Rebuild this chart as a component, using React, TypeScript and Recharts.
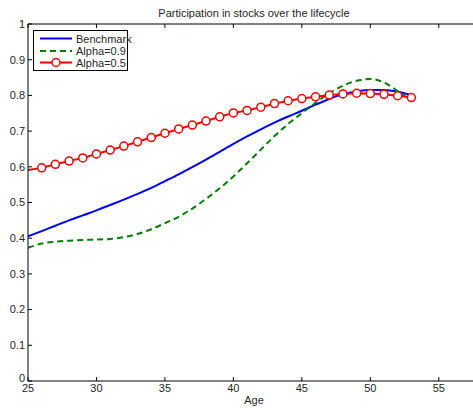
import { LineChart, Line, XAxis, YAxis, ReferenceLine } from 'recharts';

const ages = [25, 26, 27, 28, 29, 30, 31, 32, 33, 34, 35, 36, 37, 38, 39, 40, 41, 42, 43, 44, 45, 46, 47, 48, 49, 50, 51, 52, 53];
const benchmark = [0.405, 0.42, 0.435, 0.45, 0.464, 0.478, 0.493, 0.508, 0.524, 0.541, 0.56, 0.579, 0.599, 0.62, 0.642, 0.664, 0.685, 0.705, 0.724, 0.741, 0.757, 0.774, 0.79, 0.803, 0.811, 0.815, 0.815, 0.81, 0.8];
const alpha09 = [0.373, 0.385, 0.39, 0.393, 0.395, 0.396, 0.398, 0.403, 0.412, 0.425, 0.442, 0.46, 0.483, 0.51, 0.54, 0.573, 0.61, 0.648, 0.686, 0.72, 0.75, 0.779, 0.806, 0.827, 0.841, 0.846, 0.836, 0.812, 0.785];
const alpha05 = [0.591, 0.597, 0.607, 0.616, 0.625, 0.636, 0.647, 0.658, 0.67, 0.682, 0.694, 0.706, 0.717, 0.728, 0.74, 0.751, 0.758, 0.767, 0.777, 0.785, 0.791, 0.796, 0.801, 0.804, 0.806, 0.805, 0.803, 0.799, 0.794];

const xTicks = [25, 30, 35, 40, 45, 50, 55];
const yTicks = [0, 0.1, 0.2, 0.3, 0.4, 0.5, 0.6, 0.7, 0.8, 0.9, 1];

const data = ages.map((age, i) => ({
  age,
  benchmark: benchmark[i],
  alpha09: alpha09[i],
  alpha05: alpha05[i],
}));

const FONT = '"Liberation Sans", Arial, sans-serif';
const TEXT = '#262626';

// inward tick marks, matlab style (length in data units ~4px)
const X_TICK_LEN = 0.011;
const Y_TICK_LEN = 0.29;

function BottomTick({ x, y, payload }: any) {
  return (
    <text x={x} y={y} dy="0.75em" textAnchor="middle" fontSize={11} fontFamily={FONT} fill={TEXT}>
      {payload.value}
    </text>
  );
}

function LeftTick({ x, y, payload }: any) {
  const shift = payload.value === 0 ? -3 : 0;
  return (
    <text x={x} y={y + shift} dy="0.35em" textAnchor="end" fontSize={11} fontFamily={FONT} fill={TEXT}>
      {payload.value}
    </text>
  );
}

function RedDot({ cx, cy, index }: any) {
  if (index === 0) return <g key={`d-${index}`} />;
  return <circle key={`d-${index}`} cx={cx} cy={cy} r={4} fill="#fff" stroke="#ff0000" strokeWidth={1.5} />;
}

export default function App() {
  return (
    <div style={{ position: 'absolute', left: 0, top: 0, width: 473, height: 408, background: '#fff', overflow: 'hidden' }}>
      <LineChart width={473} height={408} data={data} margin={{ top: 24, right: 0, bottom: 7, left: 0 }}>
        <XAxis
          dataKey="age"
          type="number"
          domain={[25, 57.5]}
          ticks={xTicks}
          interval={0}
          allowDataOverflow
          height={20}
          tickSize={0}
          tickMargin={3}
          tickLine={false}
          axisLine={{ stroke: '#000' }}
          tick={<BottomTick />}
        />
        <YAxis
          type="number"
          domain={[0, 1]}
          ticks={yTicks}
          interval={0}
          width={28}
          tickSize={0}
          tickMargin={3}
          tickLine={false}
          axisLine={{ stroke: '#000' }}
          tick={<LeftTick />}
        />
        <ReferenceLine y={1} stroke="#000" ifOverflow="visible" />
        {xTicks.map((t) => (
          <ReferenceLine key={`xb-${t}`} segment={[{ x: t, y: 0 }, { x: t, y: X_TICK_LEN }]} stroke="#000" />
        ))}
        {xTicks.map((t) => (
          <ReferenceLine key={`xt-${t}`} segment={[{ x: t, y: 1 }, { x: t, y: 1 - X_TICK_LEN }]} stroke="#000" />
        ))}
        {yTicks.map((t) => (
          <ReferenceLine key={`yl-${t}`} segment={[{ x: 25, y: t }, { x: 25 + Y_TICK_LEN, y: t }]} stroke="#000" />
        ))}
        <Line type="monotone" dataKey="benchmark" stroke="#0000ff" strokeWidth={2} dot={false} isAnimationActive={false} />
        <Line type="monotone" dataKey="alpha09" stroke="#008000" strokeWidth={2} strokeDasharray="6 4" dot={false} isAnimationActive={false} />
        <Line type="linear" dataKey="alpha05" stroke="#ff0000" strokeWidth={2} dot={<RedDot />} isAnimationActive={false} />
      </LineChart>
      <svg width={473} height={408} style={{ position: 'absolute', left: 0, top: 0, pointerEvents: 'none' }}>
        <text x={254} y={17} textAnchor="middle" fontSize={11} fontFamily={FONT} fill={TEXT}>
          Participation in stocks over the lifecycle
        </text>
        <text x={254} y={404} textAnchor="middle" fontSize={11} fontFamily={FONT} fill={TEXT}>
          Age
        </text>
        <rect x={33.5} y={30.5} width={94} height={40} fill="#fff" stroke="#000" />
        <line x1={40} x2={72} y1={38.5} y2={38.5} stroke="#0000ff" strokeWidth={2} />
        <text x={76} y={42.5} fontSize={11} fontFamily={FONT} fill={TEXT}>Benchmark</text>
        <line x1={40} x2={72} y1={51} y2={51} stroke="#008000" strokeWidth={2} strokeDasharray="6 4" />
        <text x={76} y={55} fontSize={11} fontFamily={FONT} fill={TEXT}>Alpha=0.9</text>
        <line x1={40} x2={72} y1={62.5} y2={62.5} stroke="#ff0000" strokeWidth={2} />
        <circle cx={56} cy={62.5} r={4} fill="#fff" stroke="#ff0000" strokeWidth={1.5} />
        <text x={76} y={66.5} fontSize={11} fontFamily={FONT} fill={TEXT}>Alpha=0.5</text>
      </svg>
    </div>
  );
}
